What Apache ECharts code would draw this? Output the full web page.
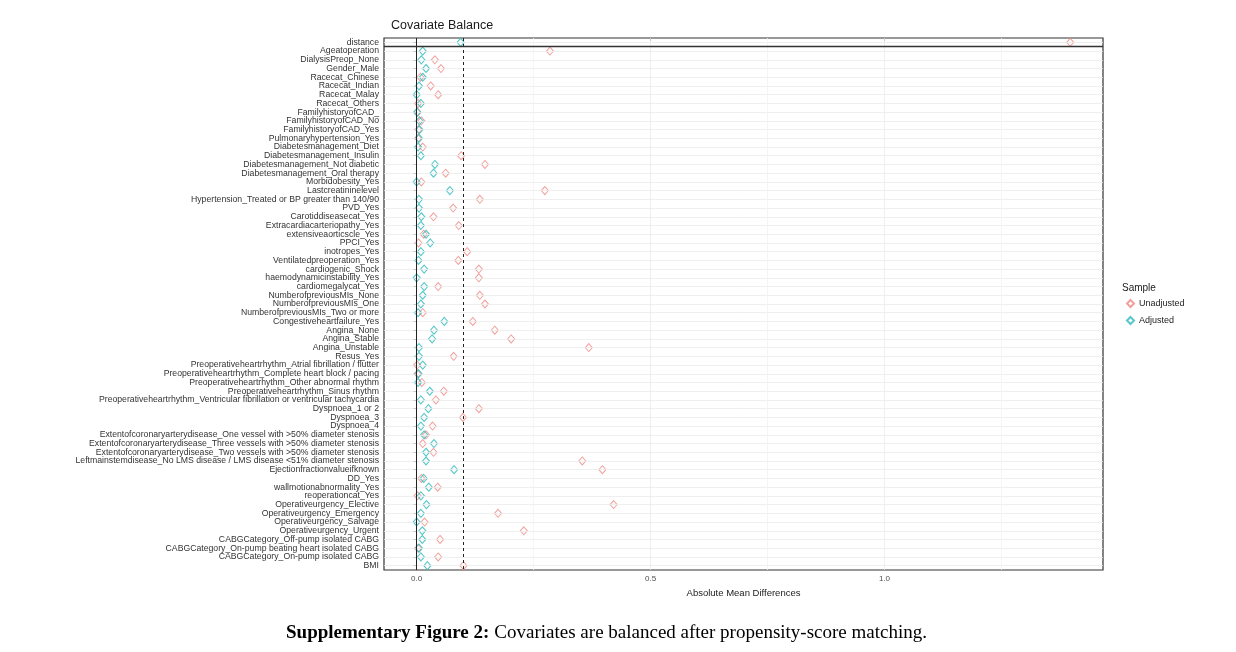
<!DOCTYPE html>
<html>
<head>
<meta charset="utf-8">
<script src="https://cdn.jsdelivr.net/npm/echarts@6/dist/echarts.min.js"></script>
<style>
html,body{margin:0;padding:0;background:#fff;}
#main{width:1236px;height:652px;}
</style>
</head>
<body>
<div id="main"></div>
<script>
// covariates, top to bottom
const covariates = [
    'distance', 'Ageatoperation', 'DialysisPreop_None', 'Gender_Male',
    'Racecat_Chinese', 'Racecat_Indian', 'Racecat_Malay', 'Racecat_Others',
    'FamilyhistoryofCAD_', 'FamilyhistoryofCAD_No', 'FamilyhistoryofCAD_Yes',
    'Pulmonaryhypertension_Yes', 'Diabetesmanagement_Diet', 'Diabetesmanagement_Insulin',
    'Diabetesmanagement_Not diabetic', 'Diabetesmanagement_Oral therapy', 'Morbidobesity_Yes',
    'Lastcreatininelevel', 'Hypertension_Treated or BP greater than 140/90', 'PVD_Yes',
    'Carotiddiseasecat_Yes', 'Extracardiacarteriopathy_Yes', 'extensiveaorticscle_Yes',
    'PPCI_Yes', 'inotropes_Yes', 'Ventilatedpreoperation_Yes', 'cardiogenic_Shock',
    'haemodynamicinstability_Yes', 'cardiomegalycat_Yes', 'NumberofpreviousMIs_None',
    'NumberofpreviousMIs_One', 'NumberofpreviousMIs_Two or more', 'Congestiveheartfailure_Yes',
    'Angina_None', 'Angina_Stable', 'Angina_Unstable', 'Resus_Yes',
    'Preoperativeheartrhythm_Atrial fibrillation / flutter',
    'Preoperativeheartrhythm_Complete heart block / pacing',
    'Preoperativeheartrhythm_Other abnormal rhythm',
    'Preoperativeheartrhythm_Sinus rhythm',
    'Preoperativeheartrhythm_Ventricular fibrillation or ventricular tachycardia',
    'Dyspnoea_1 or 2', 'Dyspnoea_3', 'Dyspnoea_4',
    'Extentofcoronaryarterydisease_One vessel with >50% diameter stenosis',
    'Extentofcoronaryarterydisease_Three vessels with >50% diameter stenosis',
    'Extentofcoronaryarterydisease_Two vessels with >50% diameter stenosis',
    'Leftmainstemdisease_No LMS disease / LMS disease <51% diameter stenosis',
    'Ejectionfractionvalueifknown', 'DD_Yes', 'wallmotionabnormality_Yes', 'reoperationcat_Yes',
    'Operativeurgency_Elective', 'Operativeurgency_Emergency', 'Operativeurgency_Salvage',
    'Operativeurgency_Urgent', 'CABGCategory_Off-pump isolated CABG',
    'CABGCategory_On-pump beating heart isolated CABG', 'CABGCategory_On-pump isolated CABG', 'BMI'
];

const unadjusted = [
    1.397, 0.285, 0.039, 0.052, 0.008, 0.030, 0.046, 0.003, 0.002, 0.010, 0.004,
    0.003, 0.013, 0.095, 0.146, 0.062, 0.010, 0.274, 0.135, 0.078, 0.036, 0.090,
    0.015, 0.004, 0.108, 0.089, 0.133, 0.133, 0.046, 0.135, 0.146, 0.013, 0.120,
    0.167, 0.202, 0.368, 0.079, 0.001, 0.002, 0.011, 0.058, 0.041, 0.133, 0.099,
    0.034, 0.020, 0.013, 0.036, 0.354, 0.397, 0.010, 0.045, 0.002, 0.421, 0.174,
    0.017, 0.229, 0.050, 0.003, 0.046, 0.100
];

const adjusted = [
    0.094, 0.013, 0.010, 0.020, 0.013, 0.005, 0.000, 0.009, 0.001, 0.006, 0.006,
    0.005, 0.003, 0.009, 0.039, 0.036, 0.000, 0.071, 0.005, 0.005, 0.010, 0.009,
    0.020, 0.029, 0.009, 0.004, 0.016, 0.000, 0.016, 0.013, 0.009, 0.003, 0.059,
    0.037, 0.033, 0.005, 0.005, 0.013, 0.004, 0.003, 0.028, 0.009, 0.025, 0.016,
    0.009, 0.016, 0.037, 0.020, 0.020, 0.080, 0.015, 0.026, 0.009, 0.021, 0.009,
    0.000, 0.012, 0.012, 0.005, 0.009, 0.023
];

const xTicks = [0, 0.5, 1.0];
const minorTicks = [0.25, 0.75, 1.25];
const threshold = 0.1;

window.addEventListener('load', function () {
    let chart = echarts.init(document.getElementById('main'));

    let unadjData = covariates.map((c, i) => [unadjusted[i], c]);
    let adjData = covariates.map((c, i) => [adjusted[i], c]);

    let option = {
        animation: false,
        backgroundColor: '#fff',
        title: [
            {
                text: 'Covariate Balance',
                left: 386, top: 14,
                textStyle: {fontFamily: 'Liberation Sans', fontSize: 12.5, fontWeight: 'normal', color: '#1a1a1a'}
            },
            {
                text: 'Sample',
                left: 1117, top: 278,
                textStyle: {fontFamily: 'Liberation Sans', fontSize: 10, fontWeight: 'normal', color: '#1a1a1a'}
            },
            {
                text: '{b|Supplementary Figure 2:} {n|Covariates are balanced after propensity-score matching.}',
                left: 281, top: 619,
                textStyle: {
                    fontWeight: 'normal',
                    rich: {
                        b: {fontFamily: 'Liberation Serif', fontSize: 19, fontWeight: 'bold', color: '#000'},
                        n: {fontFamily: 'Liberation Serif', fontSize: 19, fontWeight: 'normal', color: '#000'}
                    }
                }
            }
        ],
        legend: {
            orient: 'vertical',
            left: 1121, top: 294,
            itemWidth: 7, itemHeight: 7, itemGap: 8,
            textStyle: {fontFamily: 'Liberation Sans', fontSize: 9, color: '#222'},
            data: ['Unadjusted', 'Adjusted']
        },
        grid: {
            left: 384, right: 133, top: 38, bottom: 82,
            show: true, borderColor: '#333', borderWidth: 1.2, backgroundColor: '#fff'
        },
        xAxis: {
            type: 'value',
            min: -0.0698, max: 1.467,
            name: 'Absolute Mean Differences',
            nameLocation: 'middle', nameGap: 18,
            nameTextStyle: {fontFamily: 'Liberation Sans', fontSize: 9.5, color: '#1a1a1a'},
            axisLine: {show: false},
            axisTick: {show: true, customValues: xTicks, length: 3, lineStyle: {color: '#333'}},
            axisLabel: {
                customValues: xTicks, margin: 5,
                fontFamily: 'Liberation Sans', fontSize: 8, color: '#4d4d4d',
                formatter: v => v.toFixed(1)
            },
            splitLine: {show: false}
        },
        yAxis: [
            {
                type: 'category',
                data: covariates,
                inverse: true,
                axisLine: {show: false},
                axisTick: {show: true, alignWithLabel: true, length: 3, lineStyle: {color: '#333'}},
                axisLabel: {
                    interval: 0, margin: 5,
                    fontFamily: 'Liberation Sans', fontSize: 8.7, color: '#333'
                },
                splitLine: {show: false}
            },
            {
                type: 'value', min: 0, max: covariates.length, inverse: true, show: false
            }
        ],
        series: [
            {
                // grid lines
                type: 'scatter', data: [], silent: true, z: 1,
                markLine: {
                    silent: true, symbol: 'none', label: {show: false}, animation: false,
                    lineStyle: {color: '#ebebeb', width: 0.8, type: 'solid'},
                    data: covariates.map(c => ({yAxis: c}))
                        .concat(xTicks.slice(1).map(v => ({xAxis: v})))
                        .concat(minorTicks.map(v => ({xAxis: v, lineStyle: {color: '#f3f3f3'}})))
                }
            },
            {
                // zero line, threshold and separator under distance
                type: 'scatter', data: [], silent: true, z: 2, yAxisIndex: 1,
                markLine: {
                    silent: true, symbol: 'none', label: {show: false}, animation: false,
                    data: [
                        {xAxis: 0, lineStyle: {color: '#222', width: 1, type: 'solid'}},
                        {xAxis: threshold, lineStyle: {color: '#222', width: 1, type: [3, 3]}},
                        {yAxis: 1, lineStyle: {color: '#333', width: 1.4, type: 'solid'}}
                    ]
                }
            },
            {
                name: 'Unadjusted',
                type: 'scatter', z: 3,
                symbol: 'diamond', symbolSize: [7, 8],
                itemStyle: {color: 'rgba(0,0,0,0)', borderColor: '#EE8A84', borderWidth: 1},
                data: unadjData
            },
            {
                name: 'Adjusted',
                type: 'scatter', z: 4,
                symbol: 'diamond', symbolSize: [7, 8],
                itemStyle: {color: 'rgba(0,0,0,0)', borderColor: '#2DB9BD', borderWidth: 1.1},
                data: adjData
            }
        ]
    };
    chart.setOption(option);
});
</script>
</body>
</html>
